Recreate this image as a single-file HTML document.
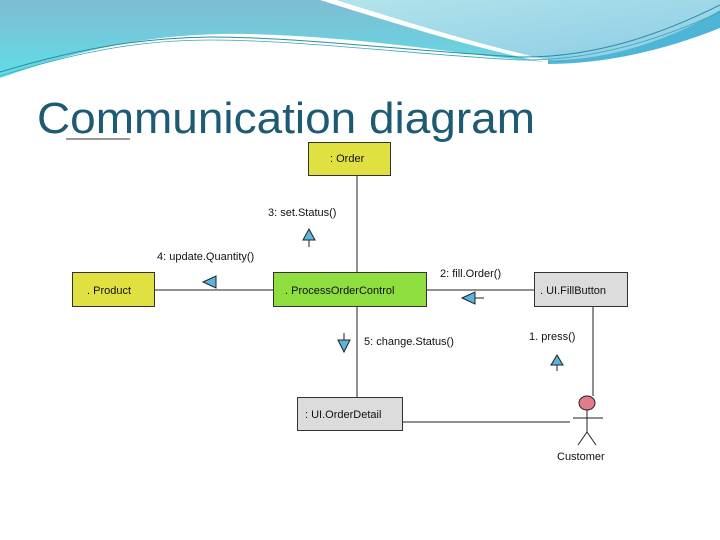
<!DOCTYPE html>
<html><head><meta charset="utf-8"><style>
body{margin:0;width:720px;height:540px;overflow:hidden;background:#fff;font-family:"Liberation Sans",sans-serif}
</style></head><body>
<svg width="720" height="540" viewBox="0 0 720 540" xmlns="http://www.w3.org/2000/svg" style="position:absolute;left:0;top:0">
<defs>
<linearGradient id="g1" x1="0" y1="0" x2="0" y2="1"><stop offset="0" stop-color="#80bcd2"/><stop offset="1" stop-color="#60dde8"/></linearGradient>
<linearGradient id="g2" x1="0" y1="0" x2="1" y2="1"><stop offset="0" stop-color="#b2e4ea"/><stop offset="1" stop-color="#8ccbe6"/></linearGradient>
</defs>
<path d="M0 0 H320 C400 25 480 50 545 62 C460 55 380 38 250 34 C150 32 80 50 0 78 Z" fill="url(#g1)"/>
<path d="M336 0 H720 V18 C660 45 600 62 548 60 C480 45 400 20 336 0Z" fill="url(#g2)"/>
<path d="M548 60 C610 62 680 35 720 10 V28 C670 48 610 64 548 64Z" fill="#4fb5d6"/>
<path d="M0 72 C90 45 150 38 210 37 C300 37 420 52 520 57 C600 58 670 30 720 5" fill="none" stroke="#2a8fa0" stroke-width="1"/>
<path d="M0 76 C90 48 150 40 210 40 C300 40 420 55 520 60 C600 61 670 35 720 12" fill="none" stroke="#3aa6b8" stroke-width="0.8"/>
<text x="37" y="133" font-size="44" textLength="498" lengthAdjust="spacingAndGlyphs" fill="#1d5a73" font-family="Liberation Sans, sans-serif">Communication diagram</text>
<line x1="66" y1="139" x2="130" y2="139" stroke="#333" stroke-width="1"/>
<g stroke="#222" stroke-width="1" fill="none">
<line x1="357" y1="175" x2="357" y2="272"/>
<line x1="357" y1="306" x2="357" y2="397"/>
<line x1="154" y1="290" x2="273" y2="290"/>
<line x1="426" y1="290" x2="534" y2="290"/>
<line x1="593" y1="306" x2="593" y2="396"/>
<line x1="402" y1="422" x2="570" y2="422"/>
</g>
<rect x="308.5" y="142.5" width="82" height="33" fill="#e0e040" stroke="#333"/>
<rect x="72.5" y="272.5" width="82" height="34" fill="#e0e040" stroke="#333"/>
<rect x="273.5" y="272.5" width="153" height="34" fill="#8fde40" stroke="#333"/>
<rect x="534.5" y="272.5" width="93" height="34" fill="#dcdcdc" stroke="#333"/>
<rect x="297.5" y="397.5" width="105" height="33" fill="#dcdcdc" stroke="#333"/>
<g font-size="11" fill="#111">
<text x="330" y="162">: Order</text>
<text x="87" y="294">. Product</text>
<text x="285" y="294">. ProcessOrderControl</text>
<text x="540" y="294">. UI.FillButton</text>
<text x="305" y="418">: UI.OrderDetail</text>
<text x="268" y="216">3: set.Status()</text>
<text x="157" y="260">4: update.Quantity()</text>
<text x="440" y="277">2: fill.Order()</text>
<text x="364" y="345">5: change.Status()</text>
<text x="529" y="340">1. press()</text>
<text x="557" y="460">Customer</text>
</g>
<g fill="#5ab4dc" stroke="#222" stroke-width="1">
<polygon points="309,229 303,240 315,240"/>
<polygon points="203,282 216,276 216,288"/>
<polygon points="462,298 475,292 475,304"/>
<polygon points="344,352 338,340 350,340"/>
<polygon points="557,355 551,365 563,365"/>
</g>
<g stroke="#222" stroke-width="1">
<line x1="309" y1="240" x2="309" y2="247"/>
<line x1="475" y1="298" x2="484" y2="298"/>
<line x1="344" y1="340" x2="344" y2="333"/>
<line x1="557" y1="365" x2="557" y2="371"/>
<line x1="587" y1="410" x2="587" y2="432"/>
<line x1="573" y1="418" x2="603" y2="418"/>
<line x1="587" y1="432" x2="578" y2="445"/>
<line x1="587" y1="432" x2="596" y2="445"/>
</g>
<ellipse cx="587" cy="403" rx="8" ry="7" fill="#e27c8c" stroke="#222"/>
</svg>
</body></html>
